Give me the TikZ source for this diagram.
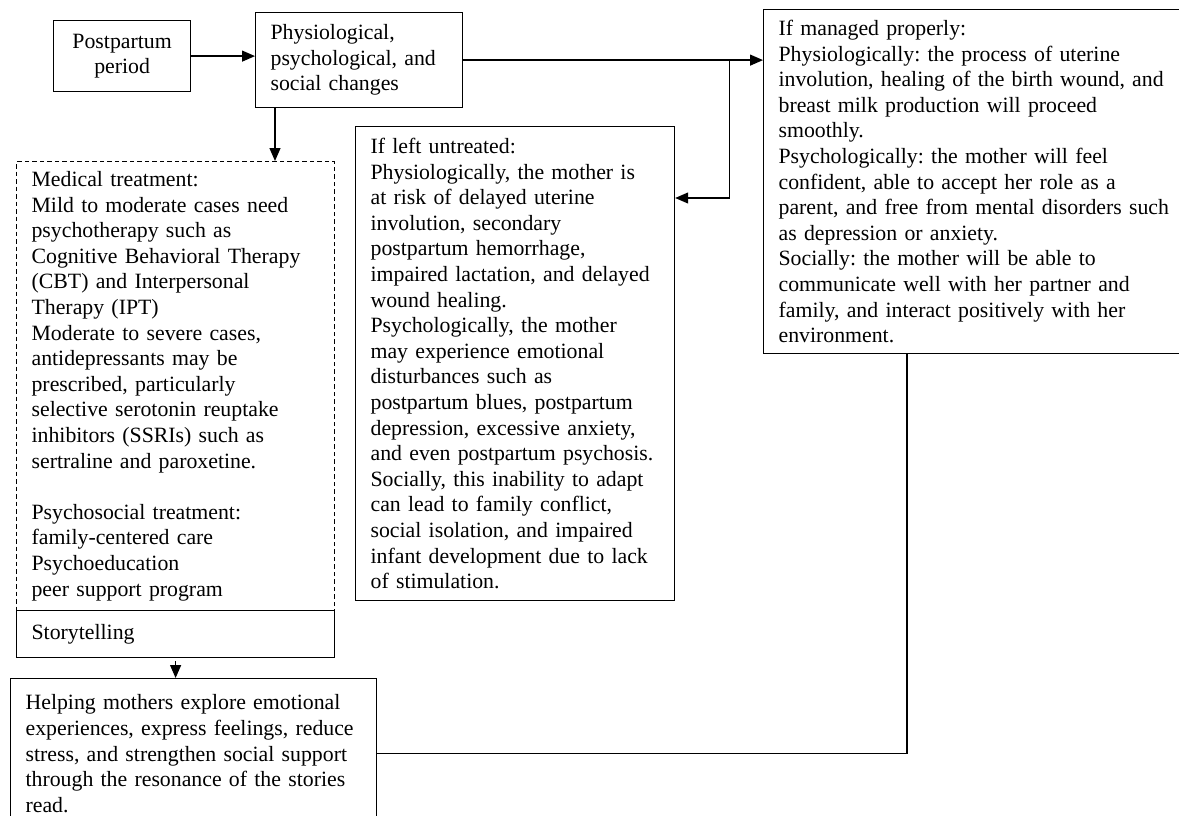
\documentclass[tikz,border=0pt]{standalone}
\usepackage{fontspec}
\setmainfont{Liberation Serif}
\frenchspacing
\hyphenpenalty=10000
\exhyphenpenalty=10000
\usetikzlibrary{
    arrows.meta,
    calc,
    positioning
}
\tikzset{
  every path/.style={
    black,
    line width=1.2pt
  },
  box/.style={
    draw,
    anchor=north west,
    align=left,
    inner xsep=15pt,
    inner ysep=0pt,
    font=\fontsize{21.8}{25.6}\selectfont
  },
  dashbox/.style={
    box,
    dash pattern=on 4.5pt off 3pt
  }
}

\begin{document}
\begin{tikzpicture}[x=1pt,y=-1pt,>={Triangle[length=13pt,width=11pt]}]

    \useasboundingbox (0,0) rectangle (1179,816);

    % 上段
    \node[box,align=center,text width=107pt,minimum height=71pt] (post) at (53,20)
        {Postpartum\\period};
    \node[box,text width=177pt,minimum height=95pt] (phys) at (255,12)
        {Physiological,\\psychological, and\\social changes};

    % 適切に管理された場合
    \node[box,text width=410pt,minimum height=344pt] (managed) at (763,9)
        {If managed properly:\\
         Physiologically: the process of uterine\\
         involution, healing of the birth wound, and\\
         breast milk production will proceed\\
         smoothly.\\
         Psychologically: the mother will feel\\
         confident, able to accept her role as a\\
         parent, and free from mental disorders such\\
         as depression or anxiety.\\
         Socially: the mother will be able to\\
         communicate well with her partner and\\
         family, and interact positively with her\\
         environment.};

    % 放置された場合
    \node[box,text width=289pt,minimum height=474pt] (untreated) at (355,126)
        {If left untreated:\\
         Physiologically, the mother is\\
         at risk of delayed uterine\\
         involution, secondary\\
         postpartum hemorrhage,\\
         impaired lactation, and delayed\\
         wound healing.\\
         Psychologically, the mother\\
         may experience emotional\\
         disturbances such as\\
         postpartum blues, postpartum\\
         depression, excessive anxiety,\\
         and even postpartum psychosis.\\
         Socially, this inability to adapt\\
         can lead to family conflict,\\
         social isolation, and impaired\\
         infant development due to lack\\
         of stimulation.};

    % 治療
    \node[dashbox,text width=288pt,minimum height=449pt] (medical) at (16,161)
        {Medical treatment:\\
         Mild to moderate cases need\\
         psychotherapy such as\\
         Cognitive Behavioral Therapy\\
         (CBT) and Interpersonal\\
         Therapy (IPT)\\
         Moderate to severe cases,\\
         antidepressants may be\\
         prescribed, particularly\\
         selective serotonin reuptake\\
         inhibitors (SSRIs) such as\\
         sertraline and paroxetine.\\[25.6pt]
         Psychosocial treatment:\\
         family-centered care\\
         Psychoeducation\\
         peer support program};
    \node[box,text width=288pt,minimum height=47pt] (story) at (16,610)
        {Storytelling};
    \node[box,text width=336pt,minimum height=150pt,inner ysep=10pt] (helping) at (10,678)
        {Helping mothers explore emotional\\
         experiences, express feelings, reduce\\
         stress, and strengthen social support\\
         through the resonance of the stories\\
         read.\\[40pt]};

    % 矢印
    \draw[->] (post.east) -- (post.east -| phys.west);
    \draw[->] (phys.east) -- (phys.east -| managed.west);
    \path (phys.east) ++(266,0) coordinate (split);
    \draw[->] (split) |- ($(untreated.north east)+(0,72)$);
    \draw[->] ([xshift=20pt]phys.south west) -- ([xshift=20pt]phys.south west |- medical.north);
    \draw[->] ([yshift=-3pt]story.south) -- (story.south |- helping.north);
    \draw (helping.east) -| ([xshift=144pt]managed.south west);

\end{tikzpicture}
\end{document}
